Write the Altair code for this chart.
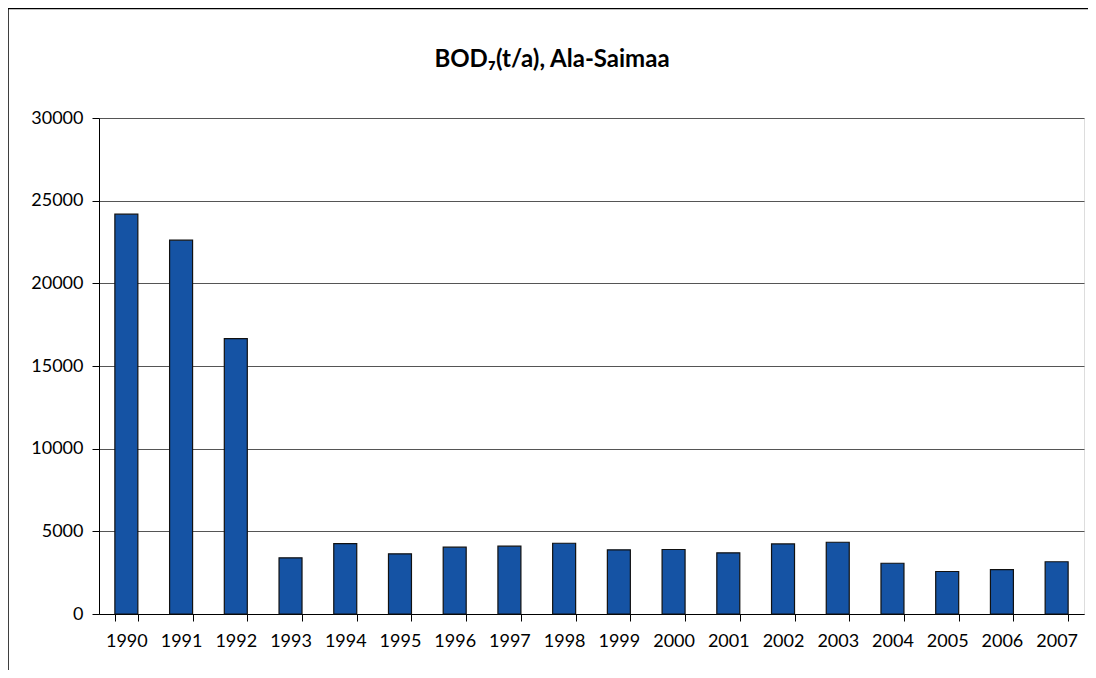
import altair as alt
import pandas as pd

years = ["1990", "1991", "1992", "1993", "1994", "1995", "1996", "1997", "1998",
         "1999", "2000", "2001", "2002", "2003", "2004", "2005", "2006", "2007"]
values = [24180, 22610, 16650, 3400, 4260, 3640, 4040, 4100, 4280,
          3880, 3900, 3700, 4240, 4340, 3070, 2570, 2690, 3160]
y_ticks = [0, 5000, 10000, 15000, 20000, 25000, 30000]
title_text = ["BOD₇(t/a), Ala-Saimaa"]

df = pd.DataFrame({"year": years, "value": values})
tdf = pd.DataFrame({"t": title_text})

FONT = "Lato"
W, H = 985, 496

xenc = alt.X("year:N", sort=years,
             scale=alt.Scale(paddingInner=0.58, paddingOuter=0.29),
             axis=alt.Axis(title=None, labelAngle=0, labelFontSize=18, labelFont=FONT,
                           labelColor="black", tickBand="extent", tickExtra=True,
                           tickSize=7, tickColor="black", domainColor="black",
                           labelPadding=11, grid=False))
yenc = alt.Y("value:Q", scale=alt.Scale(domain=[0, 30000], nice=False),
             axis=alt.Axis(title=None, values=y_ticks, format="d", labelFontSize=18,
                           labelFont=FONT, labelColor="black", tickSize=7,
                           tickColor="black", domainColor="black", labelPadding=9,
                           grid=True, gridColor="#555555", gridWidth=1.2))

bars = alt.Chart(df).mark_bar(color="#1553A4", stroke="#111111", strokeWidth=1.2).encode(
    x=xenc, y=yenc
)

frame = alt.Chart(tdf).mark_rect(fill=None, stroke="black", strokeWidth=1.5, clip=False).encode(
    x=alt.value(-91), x2=alt.value(W + 200), y=alt.value(-109.5), y2=alt.value(H + 200)
)

title = alt.Chart(tdf).mark_text(font=FONT, fontSize=24, fontWeight="bold", color="black",
                                 align="center", baseline="alphabetic").encode(
    text="t:N", x=alt.value(552 - 99), y=alt.value(67 - 118)
)

chart = alt.layer(frame, bars, title).properties(
    width=W, height=H,
    padding={"left": 91, "top": 110, "right": 4, "bottom": 56},
    autosize=alt.AutoSizeParams(type="none"),
).configure_view(stroke="#555555", strokeWidth=1.5).configure(background="white")

chart.save("out.html", embed_options={"renderer": "svg", "actions": False})
